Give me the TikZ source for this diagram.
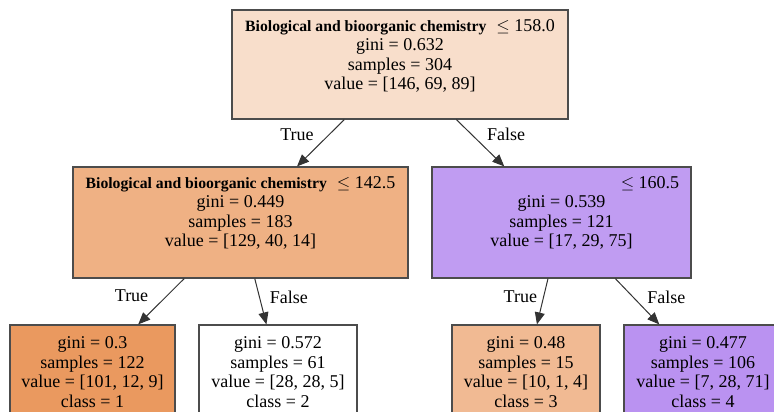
\documentclass[tikz,border=0pt]{standalone}
\usepackage{fontspec}
\setmainfont{Liberation Serif}
\usetikzlibrary{arrows.meta,positioning}

\definecolor{rootc}{HTML}{F8DECB}
\definecolor{midlc}{HTML}{EFB184}
\definecolor{midrc}{HTML}{C09CF2}
\definecolor{leafa}{HTML}{EA995F}
\definecolor{leafc}{HTML}{F1BA93}
\definecolor{leafd}{HTML}{BA92F1}

\newcommand{\feat}[1]{{\bfseries\fontsize{15.7}{19.5}\selectfont #1}}

\begin{document}
\begin{tikzpicture}[x=1pt, y=1pt,
    box/.style={draw=black!70, line width=1.2pt, rectangle, inner sep=0pt},
    txt/.style={anchor=north, align=center, inner sep=0pt, font=\fontsize{18}{19.6}\selectfont},
    edge/.style={draw=black!80, line width=1pt, -{Triangle[length=12pt, width=10pt]}},
    lbl/.style={inner sep=0pt, font=\fontsize{18}{19.5}\selectfont}]
    \clip (0,0) rectangle (774,412);

    % Root
    \node[box, fill=rootc, minimum width=336pt, minimum height=109pt] (root) at (400,347.5) {};
    \node[txt] (root-t) at ([yshift=-9.5pt]root.north)
        {\feat{Biological and bioorganic chemistry}\hspace{10pt}$\leq$ 158.0\\gini = 0.632\\samples = 304\\value = [146, 69, 89]};

    % Second level
    \node[box, fill=midlc, minimum width=335pt, minimum height=111pt] (midl) at (240.5,189.5) {};
    \node[txt] (midl-t) at ([yshift=-9.5pt]midl.north)
        {\feat{Biological and bioorganic chemistry}\hspace{10pt}$\leq$ 142.5\\gini = 0.449\\samples = 183\\value = [129, 40, 14]};

    \node[box, fill=midrc, minimum width=259pt, minimum height=111pt] (midr) at (561.5,189.5) {};
    \node[txt] (midr-t) at ([yshift=-9.5pt]midr.north)
        {\hspace*{177pt}$\leq$ 160.5\\gini = 0.539\\samples = 121\\value = [17, 29, 75]};

    % Leaves
    \node[box, fill=leafa, minimum width=165pt, minimum height=90pt] (leaf1) at (92.5,42) {};
    \node[txt] (leaf1-t) at ([yshift=-12pt]leaf1.north)
        {gini = 0.3\\samples = 122\\value = [101, 12, 9]\\class = 1};

    \node[box, fill=white, minimum width=158pt, minimum height=90pt] (leaf2) at (278,42) {};
    \node[txt] (leaf2-t) at ([yshift=-12pt]leaf2.north)
        {gini = 0.572\\samples = 61\\value = [28, 28, 5]\\class = 2};

    \node[box, fill=leafc, minimum width=148pt, minimum height=90pt] (leaf3) at (526,42) {};
    \node[txt] (leaf3-t) at ([yshift=-12pt]leaf3.north)
        {gini = 0.48\\samples = 15\\value = [10, 1, 4]\\class = 3};

    \node[box, fill=leafd, minimum width=158pt, minimum height=90pt] (leaf4) at (703,42) {};
    \node[txt] (leaf4-t) at ([yshift=-12pt]leaf4.north)
        {gini = 0.477\\samples = 106\\value = [7, 28, 71]\\class = 4};

    % Edges
    \draw[edge] (root) -- node[lbl, pos=.32, left=15pt] {True} (midl);
    \draw[edge] (root) -- node[lbl, pos=.32, right=15pt] {False} (midr);
    \draw[edge] (midl) -- node[lbl, pos=.38, left=18pt] {True} (leaf1);
    \draw[edge] (midl) -- node[lbl, pos=.4, right=10pt] {False} (leaf2);
    \draw[edge] (midr) -- node[lbl, pos=.4, left=6pt] {True} (leaf3);
    \draw[edge] (midr) -- node[lbl, pos=.4, right=14pt] {False} (leaf4);
\end{tikzpicture}
\end{document}
